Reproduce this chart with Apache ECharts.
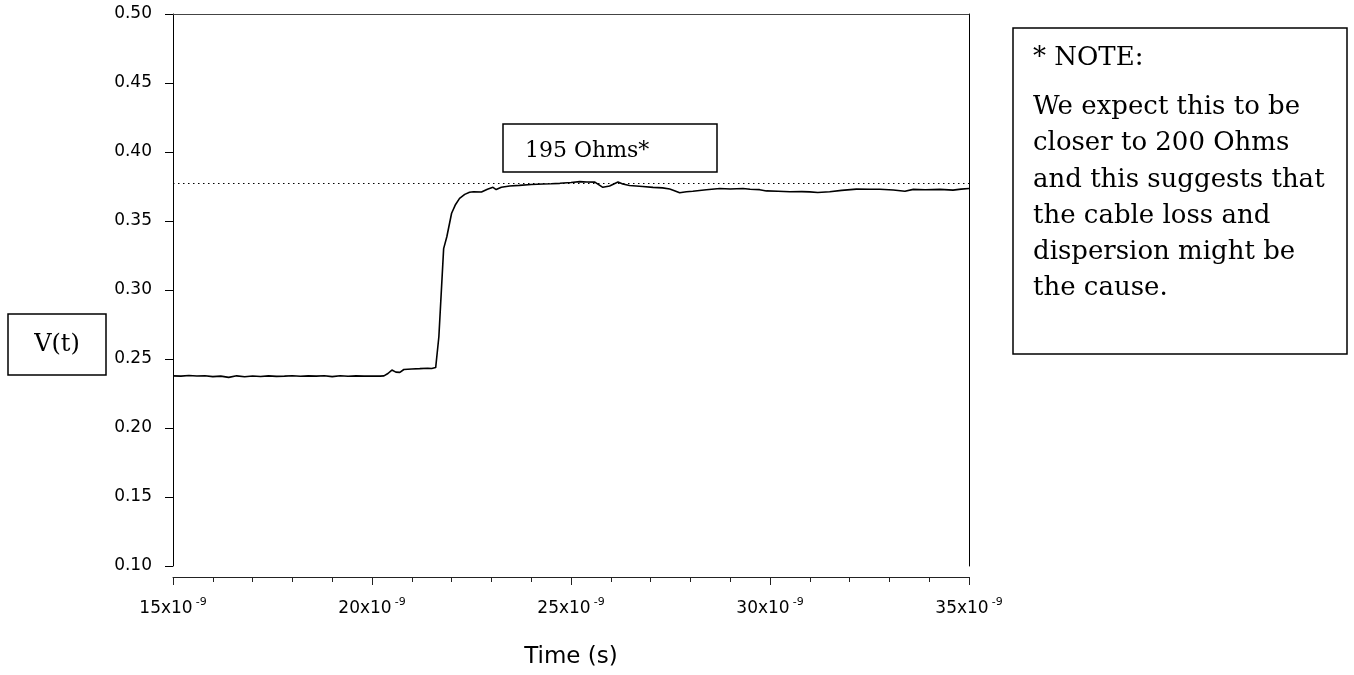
<!DOCTYPE html>
<html><head><meta charset="utf-8">
<script src="https://cdn.jsdelivr.net/npm/echarts@6/dist/echarts.min.js"></script>
<style>html,body{margin:0;padding:0;background:#fff}#c{width:1354px;height:675px}</style>
</head><body><div id="c"></div>
<script>
// time in units of 1e-9 s
const timeNs = [15.0,15.2,15.4,15.6,15.8,16.0,16.2,16.4,16.6,16.8,17.0,17.2,17.4,17.6,17.8,18.0,18.2,18.4,18.6,18.8,19.0,19.2,19.4,19.6,19.8,20.0,20.2,20.3,
  20.4,20.5,20.6,20.7,20.8,21.0,21.2,21.4,21.5,21.6,21.68,21.8,21.88,22.0,22.1,22.2,22.33,22.45,22.55,22.6,22.75,22.9,23.04,23.12,23.25,23.46,23.7,24.0,24.3,24.5,24.72,
  25.0,25.22,25.4,25.6,25.8,25.97,26.18,26.3,26.47,26.8,27.06,27.3,27.48,27.6,27.73,27.9,28.06,28.4,28.74,29.0,29.32,29.5,29.74,29.91,
  30.2,30.5,30.8,31.0,31.2,31.5,31.8,32.17,32.5,32.76,33.1,33.39,33.6,33.9,34.27,34.6,34.8,35.0];
const voltage = [0.2378,0.2376,0.2380,0.2377,0.2379,0.2372,0.2376,0.2367,0.2378,0.2371,0.2377,0.2373,0.2378,0.2374,0.2376,0.2379,0.2375,0.2378,0.2376,0.2379,0.2372,0.2379,0.2375,0.2378,0.2376,0.2377,0.2376,0.2378,
  0.2395,0.2420,0.2405,0.2403,0.2424,0.2428,0.2430,0.2433,0.2431,0.2438,0.2661,0.3300,0.3386,0.3556,0.3620,0.3664,0.3693,0.3708,0.3712,0.3725,0.3710,0.3730,0.3744,0.3728,0.3745,0.3754,0.3758,0.3764,0.3768,0.3770,0.3773,
  0.3779,0.3785,0.3783,0.3782,0.3744,0.3754,0.3782,0.3768,0.3757,0.3750,0.3744,0.3740,0.3732,0.3720,0.3705,0.3712,0.3716,0.3726,0.3736,0.3732,0.3736,0.3730,0.3727,0.3718,
  0.3716,0.3712,0.3713,0.3711,0.3707,0.3712,0.3722,0.3731,0.3730,0.3730,0.3725,0.3716,0.3729,0.3726,0.3729,0.3724,0.3731,0.3736];
const refLevel = 0.377;
const xRange = [15, 35];
const xStep = 5;
const yRange = [0.10, 0.50];
const yStep = 0.05;
const yAxisTitle = 'V(t)';
const xAxisTitle = 'Time (s)';
const boxLabel = '195 Ohms*';
const noteTitle = '* NOTE:';
const noteBody = ['We expect this to be', 'closer to 200 Ohms', 'and this suggests that', 'the cable loss and', 'dispersion might be', 'the cause.'];

const seriesData = timeNs.map((t, i) => [t, voltage[i]]);
const sans = 'DejaVu Sans';
const serif = 'DejaVu Serif';

const chart = echarts.init(document.getElementById('c'), null, {renderer: 'canvas'});
chart.setOption({
  animation: false,
  backgroundColor: '#fff',
  grid: {left: 173, right: 385, top: 14, bottom: 109, containLabel: false},
  xAxis: [{
    type: 'value', min: xRange[0], max: xRange[1], interval: xStep,
    position: 'bottom', offset: 11,
    axisLine: {show: true, onZero: false, lineStyle: {color: '#222', width: 1}},
    axisTick: {show: true, length: 8, lineStyle: {color: '#222'}},
    minorTick: {show: true, splitNumber: 5, length: 5, lineStyle: {color: '#222'}},
    splitLine: {show: false},
    axisLabel: {
      margin: 20, color: '#000',
      formatter: v => '{a|' + v + 'x10}{s|-9}',
      rich: {
        a: {fontFamily: sans, fontSize: 17, color: '#000', lineHeight: 20, verticalAlign: 'bottom'},
        s: {fontFamily: sans, fontSize: 11, color: '#000', lineHeight: 20, verticalAlign: 'top', padding: [0, 0, 0, 3]}
      }
    },
    name: xAxisTitle, nameLocation: 'middle', nameGap: 69,
    nameTextStyle: {fontFamily: sans, fontSize: 23, color: '#000'}
  }, {
    type: 'value', min: xRange[0], max: xRange[1], position: 'top',
    axisLine: {show: true, onZero: false, lineStyle: {color: '#444', width: 1}},
    axisTick: {show: false}, axisLabel: {show: false}, splitLine: {show: false}
  }],
  yAxis: [{
    type: 'value', min: yRange[0], max: yRange[1], interval: yStep,
    position: 'left',
    axisLine: {show: true, onZero: false, lineStyle: {color: '#000', width: 1}},
    axisTick: {show: true, length: 8, lineStyle: {color: '#000'}},
    splitLine: {show: false},
    axisLabel: {margin: 21, fontFamily: sans, fontSize: 17, color: '#000', formatter: v => v.toFixed(2)}
  }, {
    type: 'value', min: yRange[0], max: yRange[1], position: 'right',
    axisLine: {show: true, onZero: false, lineStyle: {color: '#000', width: 1}},
    axisTick: {show: false}, axisLabel: {show: false}, splitLine: {show: false}
  }],
  series: [{
    type: 'line', data: seriesData, xAxisIndex: 0, yAxisIndex: 0,
    showSymbol: false, symbol: 'none',
    lineStyle: {color: '#000', width: 1.6},
    markLine: {
      silent: true, symbol: 'none', precision: 4, label: {show: false},
      lineStyle: {color: '#000', type: [1.5, 3.5], width: 1},
      data: [{yAxis: refLevel}]
    }
  }],
  graphic: [
    {type: 'rect', shape: {x: 8, y: 314, width: 98, height: 61}, style: {fill: '#fff', stroke: '#000', lineWidth: 1.5}},
    {type: 'text', x: 57, y: 345, style: {text: yAxisTitle, fontFamily: serif, fontSize: 24, fill: '#000', align: 'center', verticalAlign: 'middle'}},
    {type: 'rect', shape: {x: 503, y: 124, width: 214, height: 48}, style: {fill: '#fff', stroke: '#000', lineWidth: 1.5}},
    {type: 'text', x: 525, y: 151, style: {text: boxLabel, fontFamily: serif, fontSize: 22, fill: '#000', align: 'left', verticalAlign: 'middle'}},
    {type: 'rect', shape: {x: 1013, y: 28, width: 334, height: 326}, style: {fill: '#fff', stroke: '#000', lineWidth: 1.5}},
    {type: 'text', x: 1033, y: 58, style: {text: noteTitle, fontFamily: serif, fontSize: 26, fill: '#000', align: 'left', verticalAlign: 'middle'}},
    {type: 'text', x: 1033, y: 89, style: {text: noteBody.join('\n'), fontFamily: serif, fontSize: 26, lineHeight: 36.3, fill: '#000', align: 'left', verticalAlign: 'top'}}
  ]
});
</script>
</body></html>
